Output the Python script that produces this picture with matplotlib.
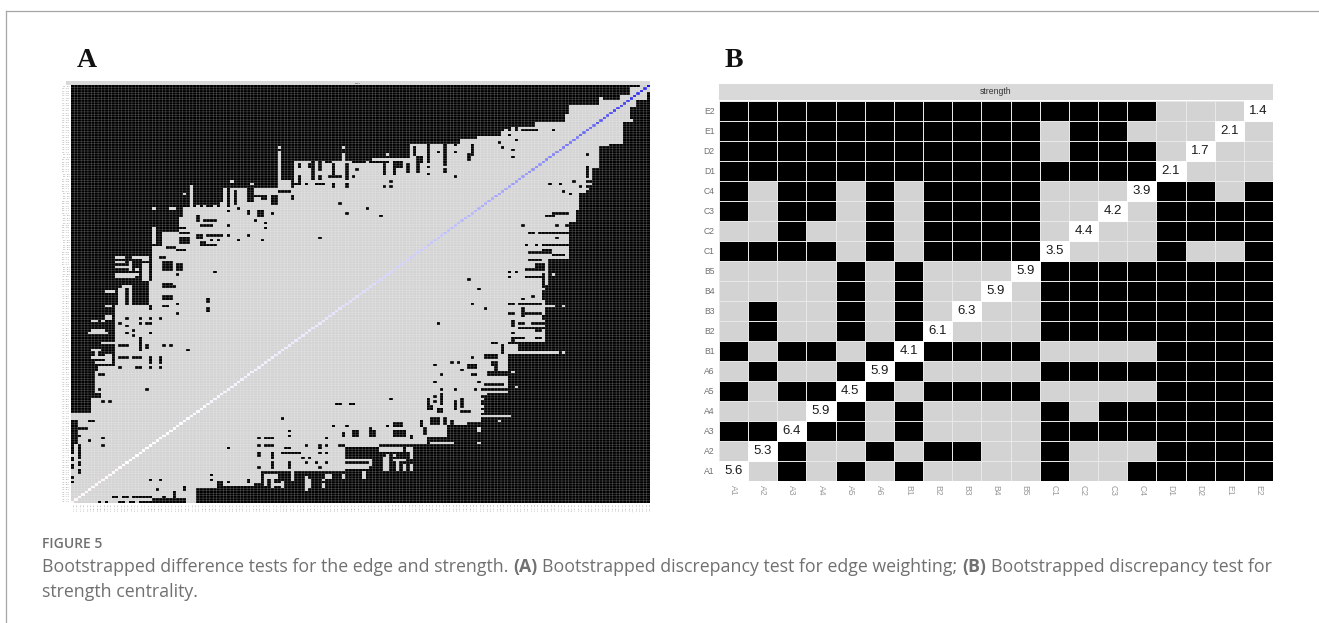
import numpy as np
import matplotlib
matplotlib.use('Agg')
import matplotlib.pyplot as plt
from matplotlib.colors import ListedColormap, LinearSegmentedColormap

W, H = 1319, 623

# ____________________________ Panel B data _______________________________________
nodes = ['A1', 'A2', 'A3', 'A4', 'A5', 'A6', 'B1', 'B2', 'B3', 'B4', 'B5',
         'C1', 'C2', 'C3', 'C4', 'D1', 'D2', 'E1', 'E2']
strength = [5.6, 5.3, 6.4, 5.9, 4.5, 5.9, 4.1, 6.1, 6.3, 5.9, 5.9,
            3.5, 4.4, 4.2, 3.9, 2.1, 1.7, 2.1, 1.4]
# 1 = significant (black), 0 = not significant (grey), rows from A1 up to E2
sig_rows = ['0010101000010011111',
            '0010010110010001111',
            '1101101000011111111',
            '0000101000010111111',
            '1011010111100001111',
            '0100101000011111111',
            '1011010111100001111',
            '0100101000011111111',
            '0100101000011111111',
            '0000101000011111111',
            '0000101000011111111',
            '1111010111100001001',
            '0010010111100001111',
            '1011010111100001111',
            '1011010111100001101',
            '1111111111111110000',
            '1111111111101110000',
            '1111111111101100000',
            '1111111111111110000']

# ____________________________ Panel A data _______________________________________
n_edges = 171
# highest grey row of the solid area, per run of columns
top_first_col = [0, 6, 7, 8, 13, 23, 24, 27, 32, 33, 44, 45, 61, 62, 65, 66,
                 80, 81, 89, 100, 115, 120, 127, 132, 137, 146, 147, 156, 162, 165, 168]
top_row = [36, 42, 53, 55, 80, 90, 104, 110, 116, 120, 122, 128, 143, 131, 128, 139,
           142, 139, 140, 146, 148, 149, 151, 153, 155, 158, 162, 164, 166, 169, 170]
# black rectangles inside the grey area: first col, last col, first row, last row
black_runs = [(42, 42, 94, 94), (31, 31, 93, 93), (31, 32, 95, 97), (27, 29, 95, 98),
              (25, 27, 100, 100), (28, 30, 104, 104), (31, 33, 103, 103),
              (32, 34, 110, 110), (32, 34, 108, 108), (32, 34, 106, 107), (32, 33, 112, 112),
              (37, 38, 108, 109), (38, 39, 106, 106), (38, 39, 105, 105), (40, 42, 109, 109),
              (40, 42, 105, 105), (41, 41, 107, 107), (43, 43, 107, 107), (43, 44, 109, 109),
              (46, 46, 109, 109), (46, 46, 113, 113), (49, 49, 107, 107), (52, 52, 109, 109),
              (56, 56, 107, 107), (57, 57, 114, 114), (57, 57, 112, 112), (54, 54, 115, 115),
              (52, 52, 118, 119), (49, 49, 120, 120), (46, 46, 119, 119), (55, 56, 117, 119),
              (59, 59, 118, 118), (37, 37, 115, 117), (38, 41, 113, 113), (39, 42, 115, 115),
              (73, 73, 108, 108), (79, 79, 122, 122), (81, 81, 118, 118), (87, 87, 120, 120),
              (54, 57, 125, 125), (52, 53, 123, 128), (59, 60, 122, 125), (56, 57, 124, 124),
              (61, 64, 127, 127), (65, 65, 124, 125), (46, 46, 121, 128), (48, 48, 122, 127),
              (67, 67, 137, 138), (67, 67, 131, 133), (69, 69, 130, 130), (66, 67, 130, 130),
              (70, 70, 137, 138), (71, 71, 134, 139), (73, 73, 136, 139), (71, 71, 132, 133),
              (73, 73, 132, 133), (72, 74, 130, 130), (75, 76, 139, 139), (77, 77, 133, 138),
              (76, 79, 133, 133), (77, 77, 129, 130), (81, 81, 132, 138), (83, 85, 139, 139),
              (84, 84, 136, 136), (83, 83, 133, 133), (81, 81, 129, 130),
              (83, 86, 139, 139), (88, 93, 139, 139), (92, 92, 134, 139), (95, 95, 134, 139),
              (96, 97, 137, 139), (83, 83, 133, 133), (94, 94, 131, 131), (94, 94, 129, 129),
              (92, 92, 129, 129), (87, 87, 120, 120), (91, 91, 117, 117),
              (101, 101, 142, 145), (102, 103, 139, 141), (105, 105, 140, 146), (108, 108, 143, 143),
              (110, 110, 140, 146), (113, 113, 143, 143), (113, 113, 146, 146), (117, 117, 140, 142),
              (118, 118, 142, 146),
              (99, 99, 135, 138), (102, 102, 135, 138), (105, 105, 139, 139), (105, 105, 137, 137),
              (105, 105, 134, 134), (110, 110, 138, 139), (110, 110, 135, 136), (113, 113, 133, 133),
              (126, 126, 147, 147), (127, 127, 145, 145), (130, 130, 144, 144), (130, 130, 141, 141),
              (131, 131, 148, 148), (129, 129, 150, 150), (133, 137, 152, 152), (142, 142, 152, 152),
              (27, 29, 88, 89), (30, 30, 88, 88), (27, 29, 83, 84), (27, 28, 80, 80), (31, 31, 81, 81),
              (31, 31, 77, 77), (40, 40, 82, 83), (40, 40, 78, 79), (23, 23, 79, 80), (20, 20, 75, 75),
              (23, 23, 75, 75), (26, 26, 75, 75), (22, 23, 73, 73), (20, 20, 73, 73), (14, 14, 73, 73),
              (16, 16, 75, 75), (16, 16, 72, 72), (16, 16, 69, 69), (18, 18, 70, 70), (18, 18, 68, 68),
              (20, 20, 62, 67), (23, 23, 69, 69), (14, 16, 64, 64), (22, 22, 63, 64), (27, 27, 64, 64),
              (29, 29, 64, 64), (34, 34, 62, 62), (14, 16, 59, 59), (18, 20, 59, 59), (23, 23, 57, 59),
              (26, 26, 57, 59), (19, 20, 55, 55), (23, 23, 55, 55), (26, 26, 55, 55), (14, 14, 55, 55),
              (22, 22, 46, 46), (8, 8, 46, 46), (8, 9, 52, 52), (5, 8, 43, 44), (9, 9, 41, 41),
              (11, 11, 41, 41), (5, 6, 33, 33), (0, 1, 24, 33), (0, 4, 30, 30), (0, 2, 27, 27),
              (5, 5, 25, 25), (9, 9, 26, 26), (9, 9, 23, 23), (0, 0, 20, 23), (2, 2, 18, 23),
              (0, 0, 17, 18), (0, 0, 14, 15), (2, 2, 15, 16), (2, 2, 12, 13), (0, 0, 8, 8), (0, 0, 10, 10)]
# grey rectangles left in the black area
gray_runs = [(61, 61, 145, 145), (80, 80, 145, 145), (47, 47, 131, 131), (53, 53, 130, 130),
             (33, 33, 126, 126), (35, 35, 120, 129), (24, 24, 120, 120), (29, 30, 120, 120),
             (24, 24, 106, 112), (28, 28, 107, 107), (28, 28, 110, 110), (37, 37, 121, 121),
             (39, 39, 121, 121), (42, 42, 121, 121), (93, 93, 142, 142), (6, 8, 62, 62),
             (7, 7, 59, 62), (6, 9, 59, 59), (7, 9, 57, 57), (10, 11, 57, 60), (5, 10, 69, 69),
             (6, 9, 70, 70), (9, 12, 65, 65), (6, 7, 74, 74), (9, 9, 74, 74), (10, 11, 75, 76),
             (10, 11, 80, 80), (10, 12, 86, 86), (14, 15, 78, 87), (17, 17, 80, 88), (15, 17, 88, 88),
             (13, 15, 100, 100), (18, 20, 100, 100), (21, 22, 99, 100), (13, 15, 98, 98),
             (17, 17, 95, 98), (13, 16, 96, 96), (19, 19, 95, 95), (21, 22, 91, 97), (13, 18, 92, 93),
             (19, 19, 93, 93), (25, 25, 91, 104), (156, 156, 165, 165), (128, 128, 151, 152),
             (130, 130, 152, 153)]
# edge weight read along the diagonal, one value per five edges (blue strength, pink at the start)
diag_weights = [-0.15, -0.12, -0.08, -0.04, 0.0, 0.01, 0.02, 0.03, 0.04, 0.05, 0.06, 0.07, 0.08, 0.09,
                0.1, 0.12, 0.14, 0.16, 0.18, 0.2, 0.22, 0.25, 0.28, 0.31, 0.34, 0.38, 0.42, 0.47,
                0.52, 0.57, 0.63, 0.7, 0.78, 0.86, 0.95]

edge_labels = [a + '--' + b for i, a in enumerate(nodes) for b in nodes[i + 1:]]


def pxAxes(fig, left, top, right, bottom):
    return fig.add_axes([left / W, 1 - bottom / H, (right - left) / W, (bottom - top) / H])


fig = plt.figure(figsize=(W / 100, H / 100), dpi=100)

# pixel layer for frame, letters and caption
bg = fig.add_axes([0, 0, 1, 1])
bg.set_xlim(0, W)
bg.set_ylim(H, 0)
bg.axis('off')
bg.plot([6, W], [11, 11], color='#a6a6a6', lw=0.9)
bg.plot([6, 6], [11, H], color='#a6a6a6', lw=0.9)
bg.text(77, 67, 'A', family='Liberation Serif', weight='bold', fontsize=20, color='#111111')
bg.text(725, 67, 'B', family='Liberation Serif', weight='bold', fontsize=20, color='#111111')

CAP_SIZE = 12.8
SPACE_PX = 4.7


def captionLine(x, y, parts):
    renderer = fig.canvas.get_renderer()
    for txt, weight in parts:
        t = bg.text(x, y, txt, family='Open Sans', fontsize=CAP_SIZE, color='#707070', weight=weight)
        x += t.get_window_extent(renderer).width + SPACE_PX


bg.text(42, 548, 'FIGURE 5', family='Open Sans', fontsize=10, color='#707070', weight='semibold')
captionLine(42, 572, [('Bootstrapped difference tests for the edge and strength.', 'normal'),
                      ('(A)', 'bold'),
                      ('Bootstrapped discrepancy test for edge weighting;', 'normal'),
                      ('(B)', 'bold'),
                      ('Bootstrapped discrepancy test for', 'normal')])
captionLine(42, 597, [('strength centrality.', 'normal')])

# ____________________________ Panel A _______________________________________
grid = np.ones((n_edges, n_edges))
starts = top_first_col + [n_edges]
for k in range(len(top_first_col)):
    grid[top_row[k] + 1:, starts[k]:starts[k + 1]] = 0
for c0, c1, r0, r1 in black_runs:
    grid[r0:r1 + 1, c0:c1 + 1] = 0
for c0, c1, r0, r1 in gray_runs:
    grid[r0:r1 + 1, c0:c1 + 1] = 1

# the test matrix is symmetric, so the lower part mirrors the upper part
for r in range(n_edges):
    for c in range(r):
        grid[c, r] = grid[r, c]

axA = pxAxes(fig, 71, 85, 650, 503)
axA.pcolormesh(np.arange(n_edges + 1), np.arange(n_edges + 1), grid,
               cmap=ListedColormap(['#000000', '#d3d3d3']), vmin=0, vmax=1)
diag = np.repeat(diag_weights, 5)[:n_edges]
diag_cmap = LinearSegmentedColormap.from_list('diag', ['#f8c8c8', '#ffffff', '#1010e8'])
diag_grid = np.ma.masked_all((n_edges, n_edges))
for k in range(n_edges):
    diag_grid[k, k] = diag[k]
axA.pcolormesh(np.arange(n_edges + 1), np.arange(n_edges + 1), diag_grid,
               cmap=diag_cmap, vmin=-1, vmax=1)
# thin white cell borders, blended by antialiasing like in the scan
for k in range(1, n_edges):
    axA.axvline(k, color='white', lw=0.36, alpha=0.33, snap=False)
    axA.axhline(k, color='white', lw=0.36, alpha=0.33, snap=False)
axA.set_xlim(0, n_edges)
axA.set_ylim(0, n_edges)
axA.set_xticks(np.arange(n_edges) + 0.5)
axA.set_yticks(np.arange(n_edges) + 0.5)
axA.set_xticklabels(edge_labels, rotation=270, fontsize=1.7, color='#9a9a9a')
axA.set_yticklabels(edge_labels, fontsize=1.7, color='#9a9a9a')
axA.tick_params(length=0, pad=0.6)
for s in axA.spines.values():
    s.set_visible(False)

stripA = pxAxes(fig, 66, 81, 650, 85)
stripA.set_facecolor('#d9d9d9')
stripA.set_xticks([])
stripA.set_yticks([])
for s in stripA.spines.values():
    s.set_visible(False)
stripA.text(0.5, 0.5, 'edge', transform=stripA.transAxes, ha='center', va='center',
            fontsize=1.7, color='#444444')

# ____________________________ Panel B _______________________________________
sig = np.array([[int(ch) for ch in row] for row in sig_rows])
m = len(nodes)
axB = pxAxes(fig, 719, 100.5, 1273, 480.5)
axB.pcolormesh(np.arange(m + 1), np.arange(m + 1), sig,
               cmap=ListedColormap(['#d3d3d3', '#000000']), vmin=0, vmax=1,
               edgecolors='#e8e8e8', linewidth=0.7)
for k in range(m):
    axB.add_patch(plt.Rectangle((k, k), 1, 1, facecolor='white', edgecolor='white', lw=0.7))
    axB.text(k + 0.5, k + 0.5, '%.1f' % strength[k], ha='center', va='center',
             family='Liberation Sans', fontsize=9.5, color='#1a1a1a')
axB.set_xlim(0, m)
axB.set_ylim(0, m)
axB.set_xticks(np.arange(m) + 0.5)
axB.set_yticks(np.arange(m) + 0.5)
axB.set_xticklabels(nodes, rotation=270, family='Liberation Sans', fontsize=6.2, color='#9a9a9a')
axB.set_yticklabels(nodes, family='Liberation Sans', fontsize=6.2, color='#707070')
axB.tick_params(length=0, pad=3)
for s in axB.spines.values():
    s.set_visible(False)

stripB = pxAxes(fig, 719, 84, 1273, 100)
stripB.set_facecolor('#d9d9d9')
stripB.set_xticks([])
stripB.set_yticks([])
for s in stripB.spines.values():
    s.set_visible(False)
stripB.text(0.5, 0.5, 'strength', transform=stripB.transAxes, ha='center', va='center',
            family='Liberation Sans', fontsize=6.2, color='#333333')

plt.savefig('out.png', dpi=100)
